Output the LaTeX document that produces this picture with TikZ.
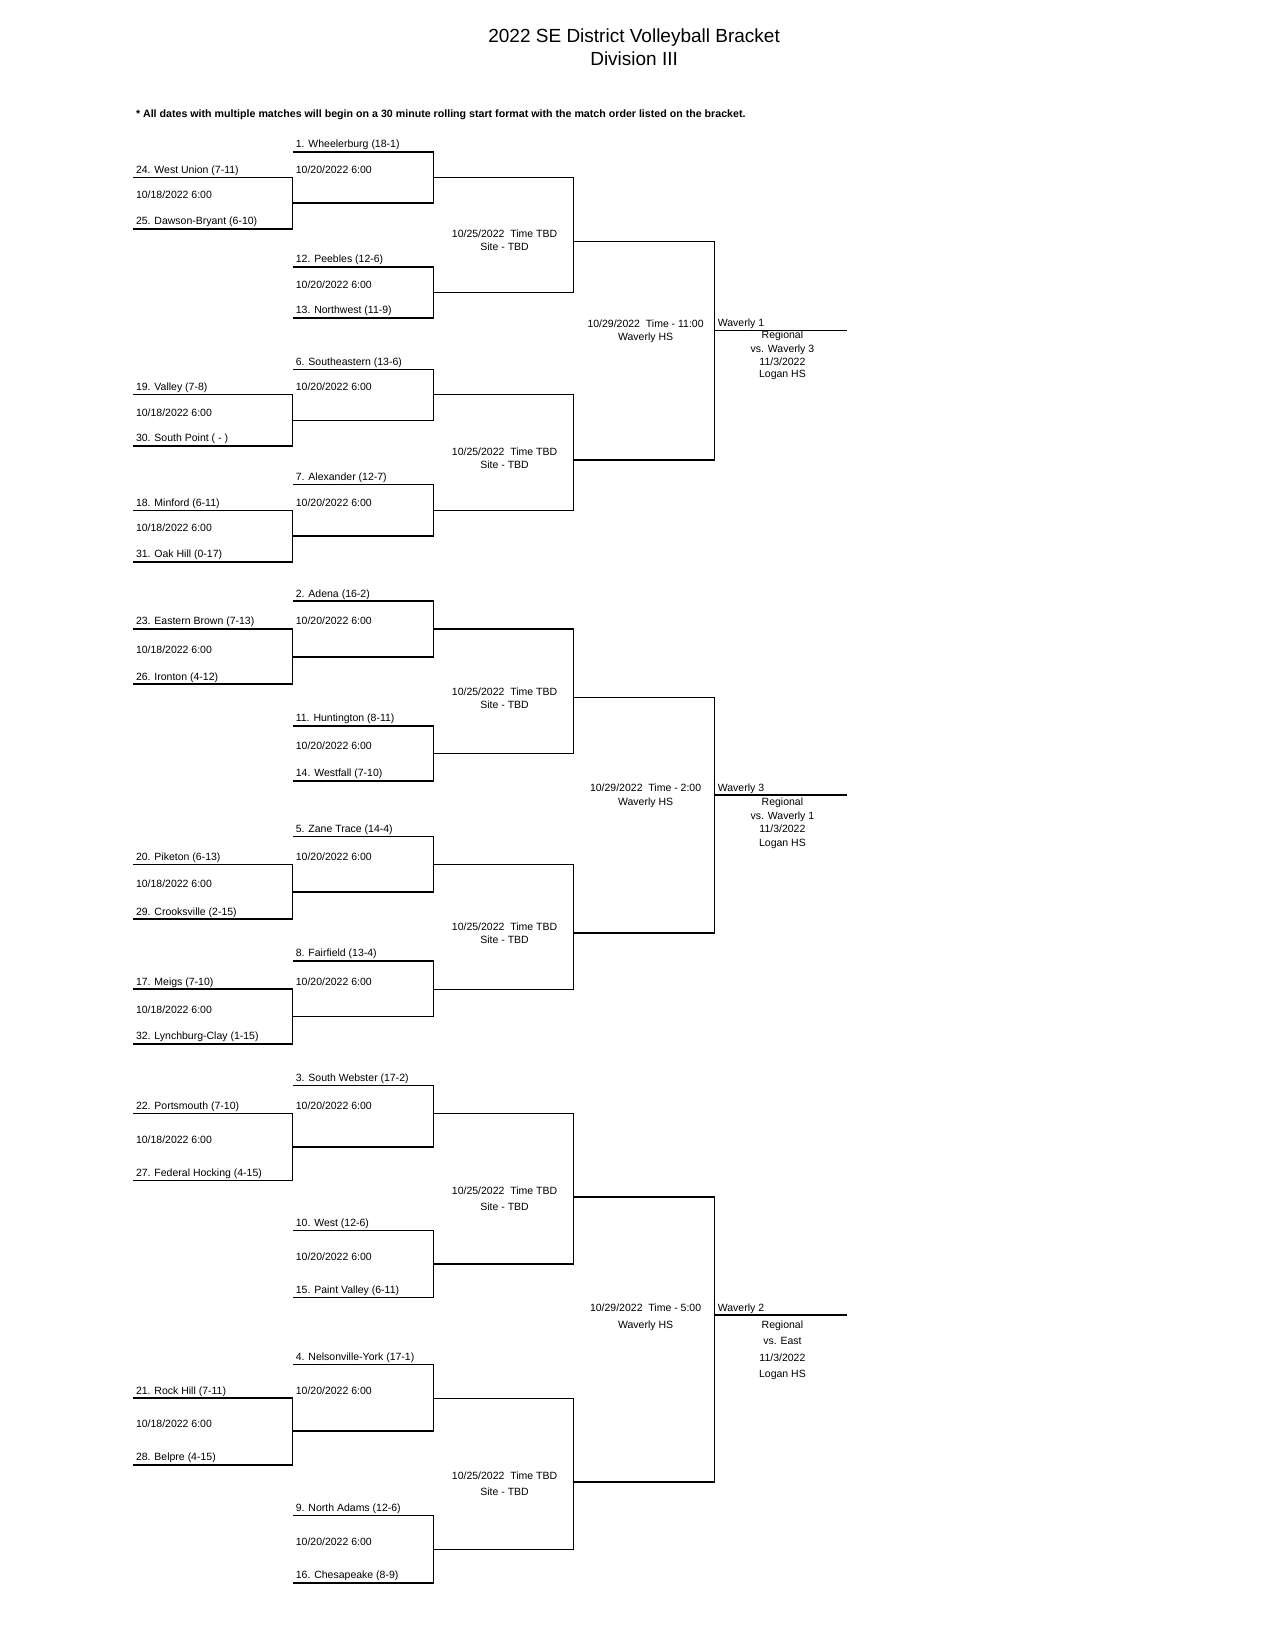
\documentclass[tikz,border=0pt]{standalone}
\usepackage{fontspec}
\setmainfont{Liberation Sans}
\usepackage{tikz}

\begin{document}
\begin{tikzpicture}[
    x=1.0446pt, y=-1.0446pt,
    team/.style={anchor=base west, inner sep=0pt, font=\fontsize{10.5}{12}\selectfont},
    info/.style={anchor=base, inner sep=0pt, font=\fontsize{10.5}{12}\selectfont},
    ttl/.style={anchor=base, inner sep=0pt, font=\fontsize{19}{22}\selectfont},
    note/.style={anchor=base west, inner sep=0pt, font=\bfseries\fontsize{10.65}{12}\selectfont},
    ln/.style={draw=black, line width=1.2pt},
    thk/.style={draw=black, line width=1.9pt}
]
\useasboundingbox (0,0) rectangle (1211,1568);
% Title and note
\node[ttl] (title) at (607,40.5) {2022 SE District Volleyball Bracket};
\node[ttl] (div) at (607,63) {Division III};
\node[note] (note) at (130,112.5) {* All dates with multiple matches will begin on a 30 minute rolling start format with the match order listed on the bracket.};
% Bracket slots, quarter 1 (left end of each line)
\coordinate (p24) at (127,170);   \coordinate (p25) at (127,219);
\coordinate (p19) at (127,378);   \coordinate (p30) at (127,427);
\coordinate (p18) at (127,489);   \coordinate (p31) at (127,538);
\coordinate (p1) at (280,145.5);  \coordinate (w24) at (280,194);
\coordinate (p12) at (280,255.5); \coordinate (p13) at (280,304.5);
\coordinate (p6) at (280,354);    \coordinate (w19) at (280,402.5);
\coordinate (p7) at (280,464);    \coordinate (w18) at (280,513);
\coordinate (q1) at (415,170);    \coordinate (q12) at (415,280);
\coordinate (q6) at (415,378);    \coordinate (q7) at (415,489);
\coordinate (s1) at (549,231);    \coordinate (s6) at (549,440);
\coordinate (f1) at (684,316.5);  \coordinate (f1e) at (811,316.5);
% Bracket slots, quarter 2
\coordinate (p23) at (127,602);   \coordinate (p26) at (127,655);
\coordinate (p20) at (127,827.5); \coordinate (p29) at (127,880);
\coordinate (p17) at (127,947);   \coordinate (p32) at (127,999.5);
\coordinate (p2) at (280,575.5);  \coordinate (w23) at (280,628.5);
\coordinate (p11) at (280,695);   \coordinate (p14) at (280,747.5);
\coordinate (p5) at (280,801);    \coordinate (w20) at (280,853.5);
\coordinate (p8) at (280,920);    \coordinate (w17) at (280,973);
\coordinate (q2) at (415,602);    \coordinate (q11) at (415,721);
\coordinate (q5) at (415,827.5);  \coordinate (q8) at (415,947);
\coordinate (s2) at (549,668);    \coordinate (s5) at (549,893.5);
\coordinate (f3) at (684,761);    \coordinate (f3e) at (811,761);
% Bracket slots, quarter 3
\coordinate (p22) at (127,1066);  \coordinate (p27) at (127,1130);
\coordinate (p21) at (127,1338.5);\coordinate (p28) at (127,1402.5);
\coordinate (p3) at (280,1039);   \coordinate (w22) at (280,1098);
\coordinate (p10) at (280,1178);  \coordinate (p15) at (280,1242);
\coordinate (p4) at (280,1306.5); \coordinate (w21) at (280,1370);
\coordinate (p9) at (280,1450.5); \coordinate (p16) at (280,1515);
\coordinate (q3) at (415,1066);   \coordinate (q10) at (415,1210);
\coordinate (q4) at (415,1338.5); \coordinate (q9) at (415,1483);
\coordinate (s3) at (549,1145.5); \coordinate (s4) at (549,1419);
\coordinate (f2) at (684,1258.5); \coordinate (f2e) at (811,1258.5);
% Round 1 (10/18)
\draw[ln] (p24) -| (w24);  \draw[thk] (p25) -| (w24);
\draw[ln] (p19) -| (w19);  \draw[thk] (p30) -| (w19);
\draw[ln] (p18) -| (w18);  \draw[thk] (p31) -| (w18);
\draw[thk] (p23) -| (w23); \draw[thk] (p26) -| (w23);
\draw[ln] (p20) -| (w20);  \draw[thk] (p29) -| (w20);
\draw[thk] (p17) -| (w17); \draw[thk] (p32) -| (w17);
\draw[ln] (p22) -| (w22);  \draw[thk] (p27) -| (w22);
\draw[thk] (p21) -| (w21); \draw[thk] (p28) -| (w21);
% Round 2 (10/20)
\draw[thk] (p1) -| (q1);   \draw[thk] (w24) -| (q1);
\draw[thk] (p12) -| (q12); \draw[thk] (p13) -| (q12);
\draw[ln] (p6) -| (q6);    \draw[thk] (w19) -| (q6);
\draw[ln] (p7) -| (q7);    \draw[thk] (w18) -| (q7);
\draw[thk] (p2) -| (q2);   \draw[thk] (w23) -| (q2);
\draw[ln] (p11) -| (q11);  \draw[thk] (p14) -| (q11);
\draw[ln] (p5) -| (q5);    \draw[thk] (w20) -| (q5);
\draw[ln] (p8) -| (q8);    \draw[thk] (w17) -| (q8);
\draw[ln] (p3) -| (q3);    \draw[thk] (w22) -| (q3);
\draw[ln] (p10) -| (q10);  \draw[thk] (p15) -| (q10);
\draw[ln] (p4) -| (q4);    \draw[thk] (w21) -| (q4);
\draw[ln] (p9) -| (q9);    \draw[thk] (p16) -| (q9);
% Round 3 (10/25)
\draw[ln] (q1) -| (s1);    \draw[ln] (q12) -| (s1);
\draw[ln] (q6) -| (s6);    \draw[ln] (q7) -| (s6);
\draw[thk] (q2) -| (s2);   \draw[ln] (q11) -| (s2);
\draw[ln] (q5) -| (s5);    \draw[ln] (q8) -| (s5);
\draw[ln] (q3) -| (s3);    \draw[ln] (q10) -| (s3);
\draw[ln] (q4) -| (s4);    \draw[ln] (q9) -| (s4);
% Round 4 (10/29) and district winners
\draw[ln] (s1) -| (f1);    \draw[thk] (s6) -| (f1);
\draw[ln] (s2) -| (f3);    \draw[thk] (s5) -| (f3);
\draw[thk] (s3) -| (f2);   \draw[thk] (s4) -| (f2);
\draw[ln] (f1) -- (f1e);
\draw[ln] (f3) -- (f3e);
\draw[thk] (f2) -- (f2e);
% Team names, quarter 1
\node[team] (n1) at (283,141.5) {1. Wheelerburg (18-1)};
\node[team] (n24) at (130,166) {24. West Union (7-11)};
\node[team] (n25) at (130,215) {25. Dawson-Bryant (6-10)};
\node[team] (n12) at (283,251.5) {12. Peebles (12-6)};
\node[team] (n13) at (283,300.5) {13. Northwest (11-9)};
\node[team] (n6) at (283,350) {6. Southeastern (13-6)};
\node[team] (n19) at (130,374) {19. Valley (7-8)};
\node[team] (n30) at (130,423) {30. South Point ( - )};
\node[team] (n7) at (283,460) {7. Alexander (12-7)};
\node[team] (n18) at (130,485) {18. Minford (6-11)};
\node[team] (n31) at (130,534) {31. Oak Hill (0-17)};
% Team names, quarter 2
\node[team] (n2) at (283,571.5) {2. Adena (16-2)};
\node[team] (n23) at (130,598) {23. Eastern Brown (7-13)};
\node[team] (n26) at (130,651) {26. Ironton (4-12)};
\node[team] (n11) at (283,691) {11. Huntington (8-11)};
\node[team] (n14) at (283,743.5) {14. Westfall (7-10)};
\node[team] (n5) at (283,797) {5. Zane Trace (14-4)};
\node[team] (n20) at (130,823.5) {20. Piketon (6-13)};
\node[team] (n29) at (130,876) {29. Crooksville (2-15)};
\node[team] (n8) at (283,916) {8. Fairfield (13-4)};
\node[team] (n17) at (130,943) {17. Meigs (7-10)};
\node[team] (n32) at (130,995.5) {32. Lynchburg-Clay (1-15)};
% Team names, quarter 3
\node[team] (n3) at (283,1035) {3. South Webster (17-2)};
\node[team] (n22) at (130,1062) {22. Portsmouth (7-10)};
\node[team] (n27) at (130,1126) {27. Federal Hocking (4-15)};
\node[team] (n10) at (283,1174) {10. West (12-6)};
\node[team] (n15) at (283,1238) {15. Paint Valley (6-11)};
\node[team] (n4) at (283,1302.5) {4. Nelsonville-York (17-1)};
\node[team] (n21) at (130,1334.5) {21. Rock Hill (7-11)};
\node[team] (n28) at (130,1398.5) {28. Belpre (4-15)};
\node[team] (n9) at (283,1446.5) {9. North Adams (12-6)};
\node[team] (n16) at (283,1511) {16. Chesapeake (8-9)};
% Round 1 dates
\node[team] (da1) at (130,190) {10/18/2022 6:00};
\node[team] (da2) at (130,399) {10/18/2022 6:00};
\node[team] (da3) at (130,509) {10/18/2022 6:00};
\node[team] (da4) at (130,625.5) {10/18/2022 6:00};
\node[team] (da5) at (130,850) {10/18/2022 6:00};
\node[team] (da6) at (130,970) {10/18/2022 6:00};
\node[team] (da7) at (130,1094.5) {10/18/2022 6:00};
\node[team] (da8) at (130,1366) {10/18/2022 6:00};
% Round 2 dates
\node[team] (db1) at (283,166) {10/20/2022 6:00};
\node[team] (db2) at (283,276.5) {10/20/2022 6:00};
\node[team] (db3) at (283,374) {10/20/2022 6:00};
\node[team] (db4) at (283,485) {10/20/2022 6:00};
\node[team] (db5) at (283,598) {10/20/2022 6:00};
\node[team] (db6) at (283,717.5) {10/20/2022 6:00};
\node[team] (db7) at (283,823.5) {10/20/2022 6:00};
\node[team] (db8) at (283,943) {10/20/2022 6:00};
\node[team] (db9) at (283,1062) {10/20/2022 6:00};
\node[team] (db10) at (283,1206.5) {10/20/2022 6:00};
\node[team] (db11) at (283,1334.5) {10/20/2022 6:00};
\node[team] (db12) at (283,1479) {10/20/2022 6:00};
% Round 3 dates and sites
\node[info] (dc1) at (483,227.5) {10/25/2022\ \ Time TBD};
\node[info] (sc1) at (483,240) {Site - TBD};
\node[info] (dc2) at (483,436.5) {10/25/2022\ \ Time TBD};
\node[info] (sc2) at (483,448.5) {Site - TBD};
\node[info] (dc3) at (483,665.5) {10/25/2022\ \ Time TBD};
\node[info] (sc3) at (483,678.5) {Site - TBD};
\node[info] (dc4) at (483,890.5) {10/25/2022\ \ Time TBD};
\node[info] (sc4) at (483,903.5) {Site - TBD};
\node[info] (dc5) at (483,1143) {10/25/2022\ \ Time TBD};
\node[info] (sc5) at (483,1159) {Site - TBD};
\node[info] (dc6) at (483,1416) {10/25/2022\ \ Time TBD};
\node[info] (sc6) at (483,1432) {Site - TBD};
% Round 4 dates and sites
\node[info] (dd1) at (618,313.5) {10/29/2022\ \ Time - 11:00};
\node[info] (sd1) at (618,325.5) {Waverly HS};
\node[info] (dd2) at (618,757.5) {10/29/2022\ \ Time - 2:00};
\node[info] (sd2) at (618,771) {Waverly HS};
\node[info] (dd3) at (618,1255) {10/29/2022\ \ Time - 5:00};
\node[info] (sd3) at (618,1271.5) {Waverly HS};
% District winners and regional info
\node[team] (win1) at (687,313) {Waverly 1};
\node[info] (rg1a) at (749,324) {Regional};
\node[info] (rg1b) at (749,337) {vs. Waverly 3};
\node[info] (rg1c) at (749,349.5) {11/3/2022};
\node[info] (rg1d) at (749,361.5) {Logan HS};
\node[team] (win3) at (687,757.5) {Waverly 3};
\node[info] (rg3a) at (749,771) {Regional};
\node[info] (rg3b) at (749,784) {vs. Waverly 1};
\node[info] (rg3c) at (749,797) {11/3/2022};
\node[info] (rg3d) at (749,810) {Logan HS};
\node[team] (win2) at (687,1255) {Waverly 2};
\node[info] (rg2a) at (749,1271.5) {Regional};
\node[info] (rg2b) at (749,1287.5) {vs. East};
\node[info] (rg2c) at (749,1303) {11/3/2022};
\node[info] (rg2d) at (749,1318.5) {Logan HS};
\end{tikzpicture}
\end{document}
